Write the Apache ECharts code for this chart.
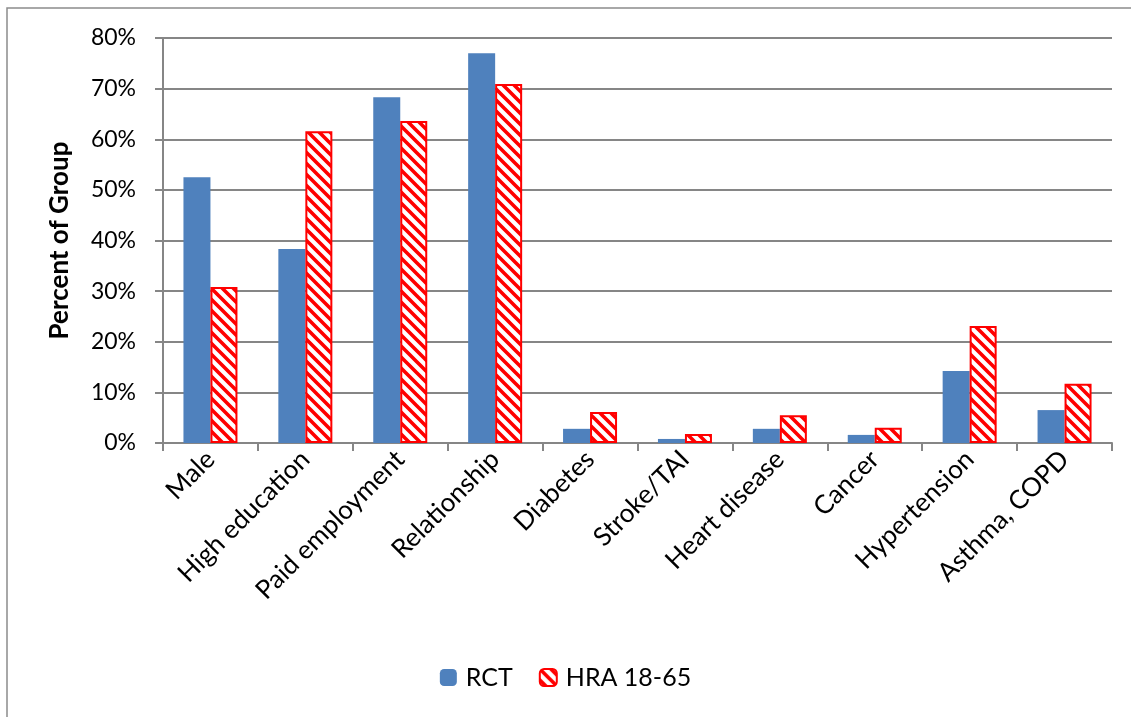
<!DOCTYPE html>
<html>
<head>
<meta charset="utf-8">
<script src="https://cdn.jsdelivr.net/npm/echarts@6/dist/echarts.min.js"></script>
<style>
  html, body { margin: 0; padding: 0; background: #fff; }
  #chart { width: 1131px; height: 717px; }
</style>
</head>
<body>
<div id="chart"></div>
<script>
// categories and values (percent of group)
const categories = ['Male', 'High education', 'Paid employment', 'Relationship', 'Diabetes',
  'Stroke/TAI', 'Heart disease', 'Cancer', 'Hypertension', 'Asthma, COPD'];
const rctValues = [52.5, 38.3, 68.3, 77.0, 2.8, 0.8, 2.8, 1.6, 14.2, 6.5];
const hraValues = [30.8, 61.6, 63.6, 70.9, 6.1, 1.8, 5.5, 3.0, 23.1, 11.7];
const yTicks = [0, 10, 20, 30, 40, 50, 60, 70, 80];

// red diagonal hatch, like the excel fill
function makeHatch() {
  const s = 11;
  const c = document.createElement('canvas');
  c.width = s; c.height = s;
  const ctx = c.getContext('2d');
  ctx.fillStyle = '#fff';
  ctx.fillRect(0, 0, s, s);
  ctx.strokeStyle = '#ff0000';
  ctx.lineWidth = 3.6;
  ctx.beginPath();
  for (let k = -1; k <= 1; k++) {
    ctx.moveTo(k * s - 2, -2);
    ctx.lineTo(k * s + s + 2, s + 2);
  }
  ctx.stroke();
  return c;
}

const myChart = echarts.init(document.getElementById('chart'));
const font = 'Lato, "Open Sans", "Noto Sans", sans-serif';
const option = {
  animation: false,
  textStyle: { fontFamily: font },
  graphic: [{
    type: 'rect',
    shape: { x: 7, y: 8, width: 1140, height: 730 },
    style: { fill: 'none', stroke: '#8c8c8c', lineWidth: 1.5 },
    silent: true
  }],
  grid: { left: 163, right: 19, top: 38, bottom: 274 },
  legend: {
    bottom: 22,
    left: 'center',
    itemWidth: 17,
    itemHeight: 17,
    itemGap: 26,
    textStyle: { fontSize: 25, color: '#000', fontFamily: font, padding: [0, 0, 0, 4] },
    data: ['RCT', 'HRA 18-65']
  },
  xAxis: {
    type: 'category',
    data: categories,
    axisLine: { lineStyle: { color: '#868686', width: 2 } },
    axisTick: { show: true, length: 8, lineStyle: { color: '#868686', width: 2 } },
    axisLabel: { rotate: 45, margin: 12, fontSize: 26, color: '#000', interval: 0 }
  },
  yAxis: {
    type: 'value',
    min: yTicks[0],
    max: yTicks[yTicks.length - 1],
    interval: 10,
    name: 'Percent of Group',
    nameLocation: 'middle',
    nameGap: 90,
    nameTextStyle: { fontSize: 26, fontWeight: 'bold', color: '#000' },
    axisLine: { show: true, lineStyle: { color: '#868686', width: 2 } },
    axisTick: { show: true, length: 8, lineStyle: { color: '#868686', width: 2 } },
    axisLabel: { formatter: '{value}%', fontSize: 23, color: '#000', margin: 27 },
    splitLine: { lineStyle: { color: '#868686', width: 2 } }
  },
  series: [
    {
      name: 'RCT',
      type: 'bar',
      data: rctValues,
      barWidth: 27,
      barGap: '0%',
      itemStyle: { color: '#4f81bd' }
    },
    {
      name: 'HRA 18-65',
      type: 'bar',
      data: hraValues,
      barWidth: 27,
      barGap: '0%',
      itemStyle: {
        color: { image: makeHatch(), repeat: 'repeat' },
        borderColor: '#ff0000',
        borderWidth: 2
      }
    }
  ]
};
myChart.setOption(option);
</script>
</body>
</html>
